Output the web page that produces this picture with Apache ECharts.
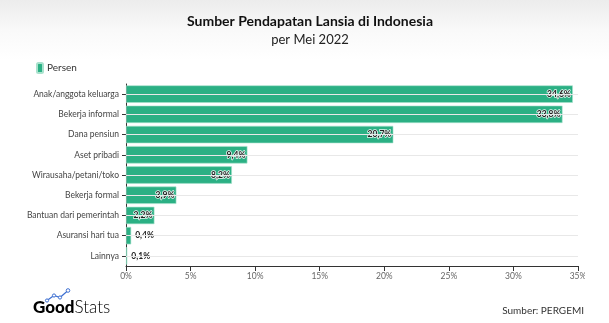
<!DOCTYPE html>
<html>
<head>
<meta charset="utf-8">
<script src="https://cdn.jsdelivr.net/npm/echarts@6/dist/echarts.min.js"></script>
<style>
  html, body { margin: 0; padding: 0; }
  body {
    width: 609px; height: 323px; overflow: hidden;
    background: linear-gradient(to bottom, #ececec 0px, #f9f9f9 30px, #ffffff 60px, #ffffff 100%);
  }
  #chart { width: 585px; height: 323px; }
</style>
</head>
<body>
<div id="chart"></div>
<script>
// Sumber pendapatan lansia (persen), per Mei 2022
const categories = [
  'Anak/anggota keluarga',
  'Bekerja informal',
  'Dana pensiun',
  'Aset pribadi',
  'Wirausaha/petani/toko',
  'Bekerja formal',
  'Bantuan dari pemerintah',
  'Asuransi hari tua',
  'Lainnya'
];
const persen = [34.6, 33.8, 20.7, 9.4, 8.2, 3.9, 2.2, 0.4, 0.1];
const xTicks = { min: 0, max: 35, interval: 5 };

const FONT = 'Lato, "Noto Sans", sans-serif';
const GREEN = '#2bb084';

const fmt = v => v.toFixed(1).replace('.', ',') + '%';

const barData = persen.map(v => {
  const inside = v >= 1;
  return {
    value: v,
    label: inside ? {
      position: 'insideRight',
      distance: 2,
      color: '#222',
      textBorderColor: 'rgba(255,255,255,0.9)',
      textBorderWidth: 1.5
    } : {
      position: 'right',
      distance: 4,
      color: '#222',
      textBorderWidth: 0
    }
  };
});

const chart = echarts.init(document.getElementById('chart'), null, { renderer: 'canvas' });

chart.setOption({
  animation: false,
  textStyle: { fontFamily: FONT },
  title: [{
    text: 'Sumber Pendapatan Lansia di Indonesia',
    subtext: 'per Mei 2022',
    left: 305, top: 9, textAlign: 'center',
    itemGap: 5,
    textStyle: { fontFamily: FONT, fontSize: 14, fontWeight: 'bold', color: '#111' },
    subtextStyle: { fontFamily: FONT, fontSize: 13, color: '#222' }
  }],
  legend: {
    left: 31, top: 57,
    itemWidth: 6, itemHeight: 10, itemGap: 10,
    icon: 'roundRect',
    textStyle: { fontFamily: FONT, fontSize: 10, color: '#333', padding: [0, 0, 0, -1] },
    data: ['Persen']
  },
  grid: {
    left: 126, right: 7, top: 84, bottom: 57,
    containLabel: false,
    outerBoundsMode: 'none'
  },
  xAxis: {
    type: 'value',
    min: xTicks.min, max: xTicks.max, interval: xTicks.interval,
    axisLine: { show: true, lineStyle: { color: '#333', width: 1 } },
    axisTick: { show: true, length: 5, lineStyle: { color: '#333' } },
    splitLine: { show: false },
    axisLabel: {
      formatter: '{value}%', fontSize: 8.5, color: '#666', margin: 6,
      fontFamily: FONT, showMaxLabel: true
    }
  },
  yAxis: {
    type: 'category',
    inverse: true,
    data: categories,
    axisLine: { show: true, lineStyle: { color: '#333', width: 1 } },
    axisTick: { show: true, alignWithLabel: true, length: 4, lineStyle: { color: '#333' } },
    axisLabel: { fontSize: 8.5, color: '#444', margin: 7, fontFamily: FONT },
    splitLine: { show: false }
  },
  series: [
    {
      // horizontal guide lines through each category centre
      type: 'line',
      name: 'guide',
      data: [],
      silent: true,
      z: 0,
      markLine: {
        silent: true,
        symbol: 'none',
        label: { show: false },
        lineStyle: { color: '#e8e8e8', type: 'solid', width: 1 },
        data: categories.map(c => ({ yAxis: c }))
      }
    },
    {
      type: 'bar',
      name: 'Persen',
      data: barData,
      z: 2,
      barCategoryGap: '14%',
      itemStyle: { color: GREEN, borderColor: '#a9e2cd', borderWidth: 0.6 },
      label: {
        show: true,
        fontSize: 8.5,
        fontWeight: 'bold',
        fontFamily: FONT,
        formatter: p => fmt(p.value)
      }
    }
  ],
  graphic: [
    {
      type: 'group', left: 33, top: 288,
      children: [
        { type: 'polyline', shape: { points: [[14, 12], [21, 7], [27, 9], [35, 2]] },
          style: { stroke: '#3d6fd1', lineWidth: 1.2, fill: null } },
        { type: 'circle', shape: { cx: 14, cy: 12, r: 1.6 }, style: { fill: '#fff', stroke: '#3d6fd1', lineWidth: 1 } },
        { type: 'circle', shape: { cx: 21, cy: 7, r: 1.6 }, style: { fill: '#fff', stroke: '#3d6fd1', lineWidth: 1 } },
        { type: 'circle', shape: { cx: 27, cy: 9, r: 1.6 }, style: { fill: '#fff', stroke: '#3d6fd1', lineWidth: 1 } },
        { type: 'circle', shape: { cx: 35, cy: 2, r: 1.8 }, style: { fill: '#fff', stroke: '#3d6fd1', lineWidth: 1 } },
        { type: 'text', x: 0, y: 11,
          style: {
            text: '{g|Good}{s|Stats}',
            rich: {
              g: { fontFamily: FONT, fontSize: 17, fontWeight: 900, color: '#2a4a9e' },
              s: { fontFamily: FONT, fontSize: 17, fontWeight: 300, color: '#4f7fd6' }
            }
          } }
      ]
    },
    {
      type: 'text', right: 1, top: 306,
      style: { text: 'Sumber: PERGEMI', font: '10px ' + FONT, fill: '#333' }
    }
  ]
});
</script>
</body>
</html>
